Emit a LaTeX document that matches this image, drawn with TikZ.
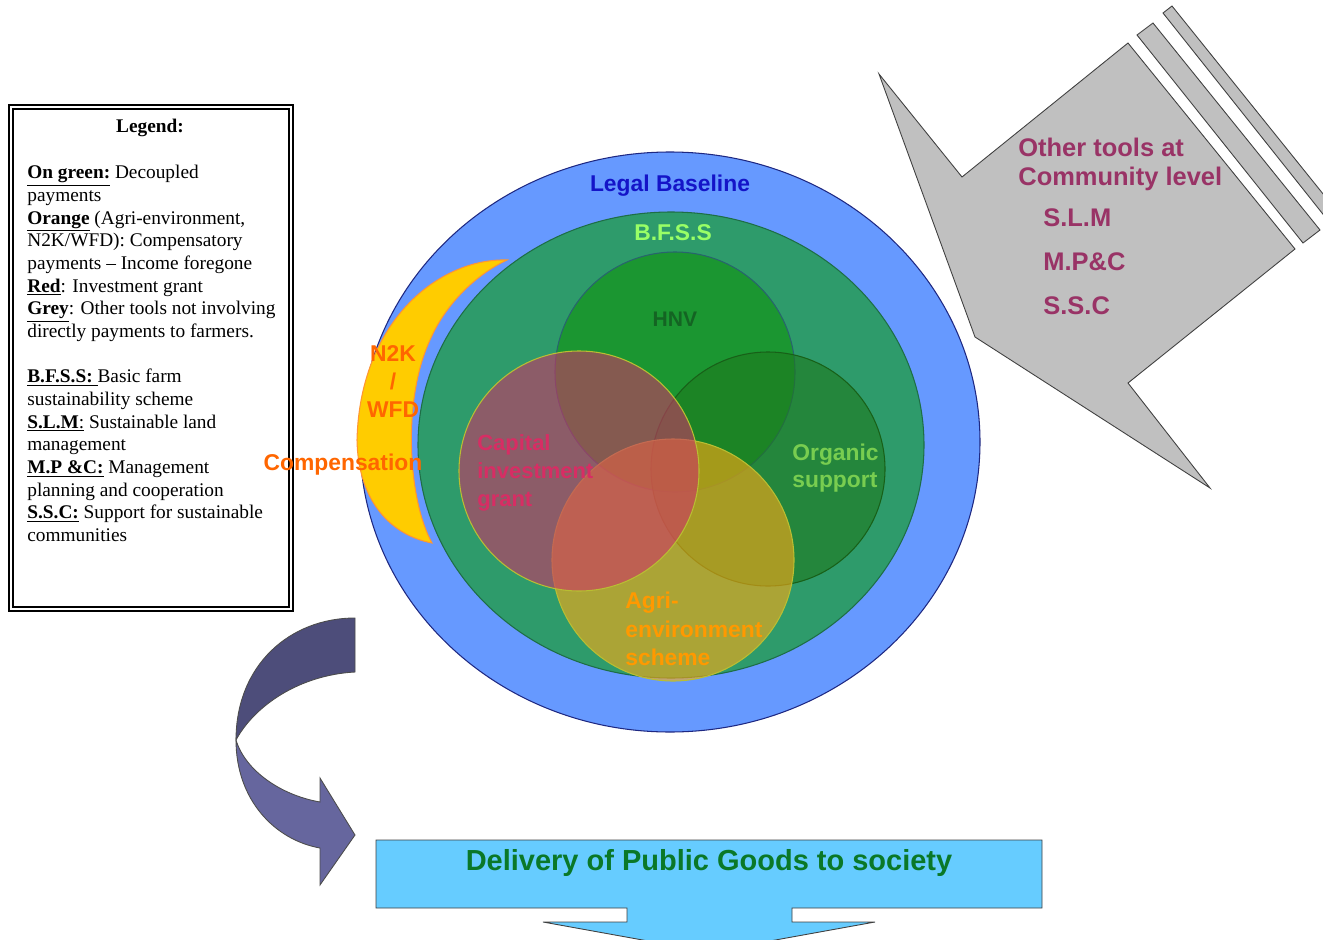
\documentclass[tikz,border=0pt]{standalone}
\usepackage{fontspec}
\setmainfont{Liberation Serif}
\newfontfamily\arialfont{Liberation Sans}

\definecolor{legalblue}{RGB}{102,153,255}
\definecolor{legalline}{RGB}{30,40,130}
\definecolor{legaltxt}{RGB}{20,20,200}
\definecolor{bfssgreen}{RGB}{46,155,107}
\definecolor{bfssline}{RGB}{30,110,70}
\definecolor{bfsstxt}{RGB}{153,255,102}
\definecolor{hnvgreen}{RGB}{24,150,40}
\definecolor{hnvline}{RGB}{40,100,110}
\definecolor{hnvtxt}{RGB}{20,100,35}
\definecolor{capred}{RGB}{204,51,102}
\definecolor{captxt}{RGB}{215,45,100}
\definecolor{vennline}{RGB}{185,190,50}
\definecolor{orggreen}{RGB}{30,120,30}
\definecolor{orgtxt}{RGB}{120,205,80}
\definecolor{agriyel}{RGB}{255,170,20}
\definecolor{agritxt}{RGB}{255,153,0}
\definecolor{n2korange}{RGB}{255,102,0}
\definecolor{moonyel}{RGB}{255,204,0}
\definecolor{moonline}{RGB}{255,150,50}
\definecolor{toolgrey}{RGB}{192,192,192}
\definecolor{tooltxt}{RGB}{153,51,102}
\definecolor{arrowdark}{RGB}{77,77,122}
\definecolor{arrowlight}{RGB}{102,102,158}
\definecolor{goodsblue}{RGB}{102,204,255}
\definecolor{goodstxt}{RGB}{10,120,40}

\newcommand{\lblfont}[2]{\arialfont\bfseries\fontsize{#1}{#2}\selectfont}

\begin{document}
\begin{tikzpicture}[x=0.02cm, y=-0.02cm,
  venn/.style={line width=0.6pt, fill opacity=0.6},
  lbl/.style={inner sep=0pt, align=left},
  outline/.style={line width=0.5pt, draw=black!75}]
\useasboundingbox (0,0) rectangle (1323,940);
\clip (0,0) rectangle (1323,940);

% legend
\draw[line width=1pt, fill=white] (9,105) rectangle (293,611);
\draw[line width=0.6pt] (13,109) rectangle (289,607);
\node[inner sep=0pt, font=\bfseries\fontsize{11}{13}\selectfont] (legtitle) at (150,128) {Legend:};
\node[lbl, anchor=north west, font=\fontsize{11}{12.9}\selectfont] (legtext) at (27,165) {%
\underline{\textbf{On green:}} Decoupled\\
payments\\
\underline{\textbf{Orange}} (Agri-environment,\\
N2K/WFD): Compensatory\\
payments -- Income foregone\\
\underline{\textbf{Red}}: Investment grant\\
\underline{\textbf{Grey}}: Other tools not involving\\
directly payments to farmers.\\[12.9pt]
\underline{\textbf{B.F.S.S:} }Basic farm\\
sustainability scheme\\
\underline{\textbf{S.L.M}:} Sustainable land\\
management\\
\underline{\textbf{M.P \&C:}} Management\\
planning and cooperation\\
\underline{\textbf{S.S.C:}} Support for sustainable\\
communities};

% grey arrow with stripes
\draw[outline, fill=toolgrey] (879,74) -- (962,177) -- (1128,43) -- (1295,249)
  -- (1128,383) -- (1210,488) -- (975,337) -- cycle;
\draw[outline, fill=toolgrey] (1137,35) -- (1153,23) -- (1320,230) -- (1303,243) -- cycle;
\draw[outline, fill=toolgrey] (1163,13) -- (1172,6) -- (1340,215) -- (1330,223) -- cycle;
\node[lbl, anchor=west, text=tooltxt, font=\lblfont{14.5}{16.5}] (tooltitle) at (1018,164) {Other tools at\\Community level};
\foreach \name/\txt/\y in {slm/S.L.M/218, mpc/M.P\&C/262, ssc/S.S.C/306}
  \node[lbl, anchor=west, text=tooltxt, font=\lblfont{14.5}{16.5}] (\name) at (1043,\y) {\txt};

% circles
\draw[line width=0.6pt, draw=legalline, fill=legalblue] (670,442) ellipse [x radius=310, y radius=290];
\draw[line width=0.6pt, draw=moonline, fill=moonyel] (507,260) .. controls (440,258) and (360,320) .. (357,440)
  .. controls (358,500) and (390,535) .. (432,543)
  .. controls (408,500) and (402,400) .. (430,340)
  .. controls (445,305) and (475,275) .. (507,260) -- cycle;
\draw[line width=0.6pt, draw=bfssline, fill=bfssgreen] (671,445) ellipse [x radius=253, y radius=233];
\draw[venn, draw=hnvline, fill=hnvgreen, fill opacity=0.85] (675,372) circle [radius=120];
\draw[venn, draw=orggreen!80!black, fill=orggreen] (768,469) circle [radius=117];
\draw[venn, draw=vennline, fill=agriyel] (673,560) circle [radius=121];
\draw[venn, draw=vennline, fill=capred] (579,471) circle [radius=120];

% labels
\node[inner sep=0pt, text=legaltxt, font=\lblfont{13}{15}] (legal) at (670,186) {Legal Baseline};
\node[inner sep=0pt, text=bfsstxt, font=\lblfont{13}{15}] (bfss) at (673,233) {B.F.S.S};
\node[inner sep=0pt, text=hnvtxt, font=\lblfont{12}{14}] (hnv) at (675,319) {HNV};
\node[lbl, anchor=north west, text=captxt, font=\lblfont{12.5}{15.9}] (capital) at (477,434) {Capital\\investment\\grant};
\node[lbl, anchor=north west, text=orgtxt, font=\lblfont{13}{15.4}] (organic) at (792,444) {Organic\\support};
\node[lbl, anchor=north west, text=agritxt, font=\lblfont{13}{16.2}] (agri) at (625,592) {Agri-\\environment\\scheme};
\node[inner sep=0pt, anchor=north, align=center, text=n2korange, font=\lblfont{13}{15.9}] (n2k) at (393,345) {N2K\\/\\WFD};
\node[inner sep=0pt, text=n2korange, font=\lblfont{13}{15}] (comp) at (343,465) {Compensation};

% curved arrow
\draw[line width=0.5pt, draw=black!70, fill=arrowdark] (355,618) .. controls (290,618) and (236,665) .. (236,740)
  .. controls (255,705) and (300,675) .. (355,672) -- cycle;
\draw[line width=0.5pt, draw=black!70, fill=arrowlight] (236,740) .. controls (236,800) and (275,840) .. (320,848)
  -- (320,885) -- (355,835) -- (320,778) -- (320,802)
  .. controls (280,795) and (245,770) .. (236,740) -- cycle;

% delivery box
\draw[outline, fill=goodsblue] (376,840) -- (1042,840) -- (1042,908) -- (792,908) -- (792,922) -- (875,922)
  -- (709,952) -- (543,922) -- (627,922) -- (627,908) -- (376,908) -- cycle;
\node[inner sep=0pt, text=goodstxt, font=\lblfont{16.5}{19}] (goods) at (709,863) {Delivery of Public Goods to society};
\end{tikzpicture}
\end{document}
